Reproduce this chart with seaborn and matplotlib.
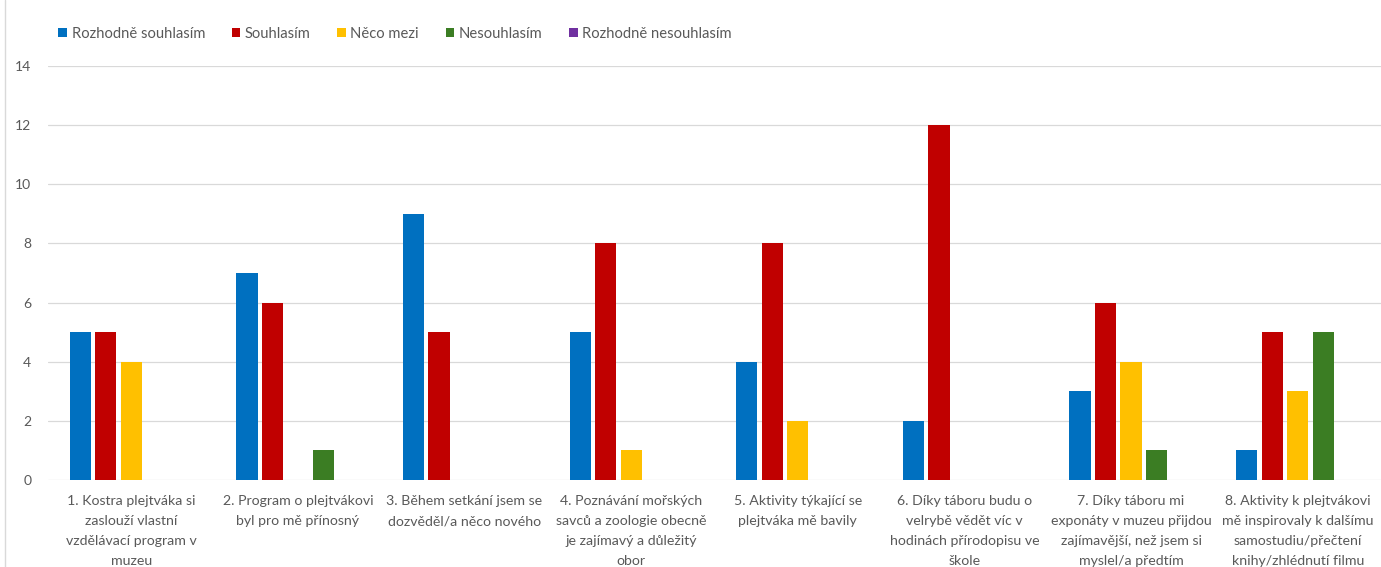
import matplotlib
matplotlib.use("Agg")
import matplotlib.pyplot as plt
import seaborn as sns
import pandas as pd
from matplotlib.lines import Line2D
from matplotlib.patches import Patch

categories = [
    "1. Kostra plejtváka si\nzaslouží vlastní\nvzdělávací program v\nmuzeu",
    "2. Program o plejtvákovi\nbyl pro mě přínosný",
    "3. Během setkání jsem se\ndozvěděl/a něco nového",
    "4. Poznávání mořských\nsavců a zoologie obecně\nje zajímavý a důležitý\nobor",
    "5. Aktivity týkající se\nplejtváka mě bavily",
    "6. Díky táboru budu o\nvelrybě vědět víc v\nhodinách přírodopisu ve\nškole",
    "7. Díky táboru mi\nexponáty v muzeu přijdou\nzajímavější, než jsem si\nmyslel/a předtím",
    "8. Aktivity k plejtvákovi\nmě inspirovaly k dalšímu\nsamostudiu/přečtení\nknihy/zhlédnutí filmu",
]
series_names = ["Rozhodně souhlasím", "Souhlasím", "Něco mezi", "Nesouhlasím", "Rozhodně nesouhlasím"]
rozhodne_souhlasim = [5, 7, 9, 5, 4, 2, 3, 1]
souhlasim = [5, 6, 5, 8, 8, 12, 6, 5]
neco_mezi = [4, 0, 0, 1, 2, 0, 4, 3]
nesouhlasim = [0, 1, 0, 0, 0, 0, 1, 5]
rozhodne_nesouhlasim = [0, 0, 0, 0, 0, 0, 0, 0]
colors = ["#0070C0", "#C00000", "#FFC000", "#3B7D23", "#7030A0"]

series_values = [rozhodne_souhlasim, souhlasim, neco_mezi, nesouhlasim, rozhodne_nesouhlasim]
rows = []
for name, vals in zip(series_names, series_values):
    for cat, v in zip(categories, vals):
        rows.append({"cat": cat, "series": name, "value": v})
df = pd.DataFrame(rows)

sns.set_theme(style="white")
plt.rcParams['font.family'] = ['Lato', 'DejaVu Sans']

fig = plt.figure(figsize=(13.81, 5.67), dpi=100)
fig.patch.set_facecolor("white")
ax = fig.add_axes([48/1381, 1-480/567, 1-48/1381, (480-66)/567])

sns.barplot(data=df, x="cat", y="value", hue="series", order=categories,
            hue_order=series_names, palette=colors, saturation=1, width=0.765, gap=0.17,
            linewidth=0, ax=ax, legend=False)

ax.set_ylim(0, 14)
ax.set_xlim(-0.5, len(categories) - 0.5)
ax.set_yticks(range(0, 15, 2))
ax.yaxis.grid(True, color="#d9d9d9", linewidth=0.9)
ax.set_axisbelow(True)
for s in ax.spines.values():
    s.set_visible(False)
ax.set_xlabel("")
ax.set_ylabel("")
ax.tick_params(axis="y", length=0, labelsize=10, labelcolor="#595959", pad=12)
ax.tick_params(axis="x", length=0, labelsize=10.2, labelcolor="#595959", pad=11)
for lbl in ax.get_xticklabels():
    lbl.set_linespacing(1.78)
    lbl.set_verticalalignment("top")

handles = [Patch(facecolor=c, edgecolor="none") for c in colors]
fig.legend(handles, series_names, loc="center left", bbox_to_anchor=(45/1381, 1-34/567),
           ncol=5, frameon=False, fontsize=10.6, handlelength=0.6, handleheight=0.6,
           handletextpad=0.3, columnspacing=1.8, labelcolor="#595959")

fig.add_artist(Line2D([5/1381, 5/1381], [0, 1], transform=fig.transFigure, color="#d9d9d9", linewidth=1))

fig.savefig("out.png", dpi=100)
